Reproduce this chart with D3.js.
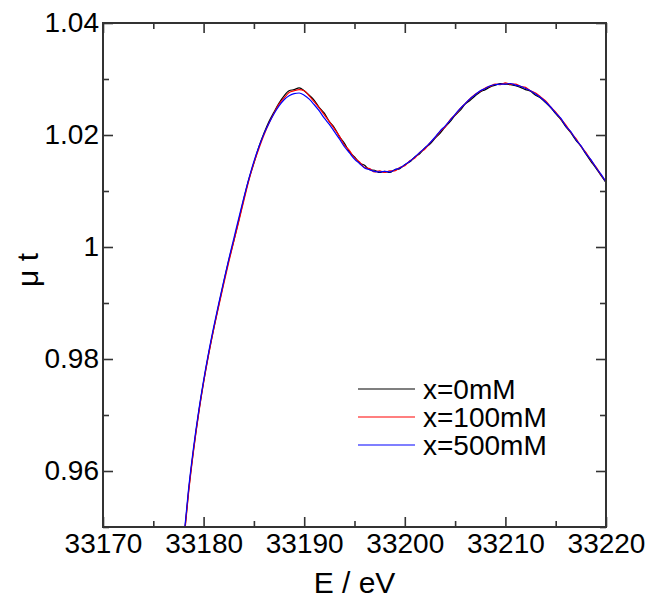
<!DOCTYPE html>
<html><head><meta charset="utf-8">
<script src="https://cdn.jsdelivr.net/npm/d3@7"></script>
<style>body{margin:0;background:#fff}svg{display:block}text{font-family:"Liberation Sans",Arial,sans-serif;fill:#000}</style>
</head><body>
<svg id="chart" width="651" height="600"></svg>
<script>
const energy = [33178.0,33178.5,33179.0,33179.5,33180.0,33180.5,33181.0,33181.5,33182.0,33182.5,33183.0,33183.5,33184.0,33184.5,33185.0,33185.5,33186.0,33186.5,33187.0,33187.5,33188.0,33188.5,33189.0,33189.5,33190.0,33190.5,33191.0,33191.5,33192.0,33192.5,33193.0,33193.5,33194.0,33194.5,33195.0,33195.5,33196.0,33196.5,33197.0,33197.5,33198.0,33198.5,33199.0,33199.5,33200.0,33200.5,33201.0,33201.5,33202.0,33202.5,33203.0,33203.5,33204.0,33204.5,33205.0,33205.5,33206.0,33206.5,33207.0,33207.5,33208.0,33208.5,33209.0,33209.5,33210.0,33210.5,33211.0,33211.5,33212.0,33212.5,33213.0,33213.5,33214.0,33214.5,33215.0,33215.5,33216.0,33216.5,33217.0,33217.5,33218.0,33218.5,33219.0,33219.5,33220.0];
const mu0 = [0.9470,0.9563,0.9638,0.9703,0.9759,0.9809,0.9854,0.9896,0.9937,0.9976,1.0011,1.0048,1.0086,1.0121,1.0150,1.0179,1.0203,1.0224,1.0241,1.0257,1.0270,1.0279,1.0281,1.0284,1.0279,1.0271,1.0262,1.0249,1.0239,1.0224,1.0213,1.0197,1.0185,1.0170,1.0161,1.0150,1.0146,1.0138,1.0137,1.0133,1.0135,1.0133,1.0138,1.0140,1.0147,1.0152,1.0161,1.0167,1.0177,1.0184,1.0194,1.0203,1.0214,1.0224,1.0235,1.0244,1.0255,1.0262,1.0270,1.0277,1.0281,1.0286,1.0289,1.0292,1.0291,1.0290,1.0288,1.0285,1.0281,1.0278,1.0271,1.0266,1.0258,1.0249,1.0238,1.0228,1.0215,1.0204,1.0191,1.0180,1.0166,1.0153,1.0141,1.0128,1.0115];
const mu100 = [0.9467,0.9560,0.9636,0.9701,0.9758,0.9808,0.9853,0.9894,0.9934,0.9973,1.0010,1.0046,1.0083,1.0119,1.0150,1.0176,1.0200,1.0221,1.0239,1.0255,1.0266,1.0276,1.0279,1.0281,1.0279,1.0270,1.0259,1.0248,1.0236,1.0224,1.0211,1.0198,1.0182,1.0172,1.0159,1.0152,1.0142,1.0140,1.0134,1.0136,1.0133,1.0136,1.0136,1.0142,1.0145,1.0154,1.0159,1.0169,1.0175,1.0186,1.0195,1.0206,1.0214,1.0227,1.0236,1.0247,1.0256,1.0265,1.0273,1.0278,1.0284,1.0287,1.0291,1.0290,1.0293,1.0291,1.0291,1.0287,1.0285,1.0279,1.0275,1.0268,1.0261,1.0250,1.0241,1.0229,1.0218,1.0205,1.0194,1.0180,1.0169,1.0155,1.0143,1.0129,1.0117];
const mu500 = [0.9474,0.9567,0.9642,0.9706,0.9762,0.9812,0.9857,0.9899,0.9939,0.9978,1.0015,1.0052,1.0088,1.0122,1.0153,1.0179,1.0202,1.0221,1.0238,1.0252,1.0263,1.0270,1.0274,1.0275,1.0271,1.0264,1.0254,1.0243,1.0230,1.0219,1.0206,1.0193,1.0179,1.0168,1.0157,1.0149,1.0141,1.0138,1.0135,1.0134,1.0135,1.0134,1.0138,1.0141,1.0147,1.0153,1.0161,1.0169,1.0177,1.0186,1.0196,1.0207,1.0216,1.0226,1.0237,1.0247,1.0256,1.0265,1.0272,1.0279,1.0283,1.0288,1.0290,1.0291,1.0291,1.0292,1.0289,1.0287,1.0283,1.0279,1.0273,1.0267,1.0259,1.0250,1.0239,1.0230,1.0216,1.0206,1.0192,1.0181,1.0167,1.0156,1.0142,1.0130,1.0116];
const seriesNames = ["x=0mM","x=100mM","x=500mM"];
const seriesColors = ["#000000","#ff0000","#0000ff"];
const xMajorTicks = [33170,33180,33190,33200,33210,33220];
const xMinorTicks = [33175,33185,33195,33205,33215];
const yMajorTicks = [0.96,0.98,1,1.02,1.04];
const yMinorTicks = [0.95,0.97,0.99,1.01,1.03];
const xTitle = "E / eV";
const yTitle = "μ t";

const svg = d3.select("#chart");
const L = 103, R = 606, T = 23, B = 527;
const x = d3.scaleLinear().domain([33170,33220]).range([L,R]);
const y = d3.scaleLinear().domain([0.95,1.04]).range([B,T]);

svg.append("defs").append("clipPath").attr("id","clip")
  .append("rect").attr("x",L).attr("y",T).attr("width",R-L).attr("height",B-T);

const series = [mu0, mu100, mu500];
const line = d3.line().x((d,i)=>x(energy[i])).y(d=>y(d)).curve(d3.curveMonotoneX);
const g = svg.append("g").attr("clip-path","url(#clip)");
series.forEach((s,k)=>{
  g.append("path").datum(s).attr("d",line).attr("fill","none")
   .attr("stroke",seriesColors[k]).attr("stroke-width",1.2).attr("stroke-linejoin","round");
});

const fs = 28;
function styleAxis(sel){
  sel.select(".domain").remove();
  sel.selectAll(".tick line").attr("stroke","#333").attr("stroke-width",1.6);
  sel.selectAll("text").attr("font-size",fs).attr("font-family","Liberation Sans, Arial, sans-serif").attr("fill","#000");
}
svg.append("g").attr("transform",`translate(0,${B})`)
  .call(d3.axisBottom(x).tickValues(xMajorTicks).tickSize(-10).tickPadding(6).tickFormat(d=>String(d))).call(styleAxis);
svg.append("g").attr("transform",`translate(0,${B})`)
  .call(d3.axisBottom(x).tickValues(xMinorTicks).tickSize(-6).tickFormat("")).call(styleAxis);
svg.append("g").attr("transform",`translate(0,${T})`)
  .call(d3.axisTop(x).tickValues(xMajorTicks).tickSize(-10).tickFormat("")).call(styleAxis);
svg.append("g").attr("transform",`translate(0,${T})`)
  .call(d3.axisTop(x).tickValues(xMinorTicks).tickSize(-6).tickFormat("")).call(styleAxis);
svg.append("g").attr("transform",`translate(${L},0)`)
  .call(d3.axisLeft(y).tickValues(yMajorTicks).tickSize(-10).tickPadding(4).tickFormat(d=>String(d))).call(styleAxis);
svg.append("g").attr("transform",`translate(${L},0)`)
  .call(d3.axisLeft(y).tickValues(yMinorTicks).tickSize(-6).tickFormat("")).call(styleAxis);
svg.append("g").attr("transform",`translate(${R},0)`)
  .call(d3.axisRight(y).tickValues(yMajorTicks).tickSize(-10).tickFormat("")).call(styleAxis);
svg.append("g").attr("transform",`translate(${R},0)`)
  .call(d3.axisRight(y).tickValues(yMinorTicks).tickSize(-6).tickFormat("")).call(styleAxis);

svg.append("rect").attr("x",L).attr("y",T).attr("width",R-L).attr("height",B-T)
  .attr("fill","none").attr("stroke","#333").attr("stroke-width",2);

svg.append("text").attr("x",(L+R)/2).attr("y",593).attr("text-anchor","middle")
  .attr("font-size",30).text(xTitle);
svg.append("text").attr("transform","translate(38,270) rotate(-90)").attr("text-anchor","middle")
  .attr("font-size",30).text(yTitle);

const lg = svg.append("g");
seriesNames.forEach((n,k)=>{
  const yy = 389 + k*28;
  lg.append("line").attr("x1",358).attr("x2",415).attr("y1",yy).attr("y2",yy)
    .attr("stroke",seriesColors[k]).attr("stroke-width",1.2);
  lg.append("text").attr("x",423).attr("y",yy).attr("dy","0.36em").attr("font-size",fs).text(n);
});
</script>
</body></html>
